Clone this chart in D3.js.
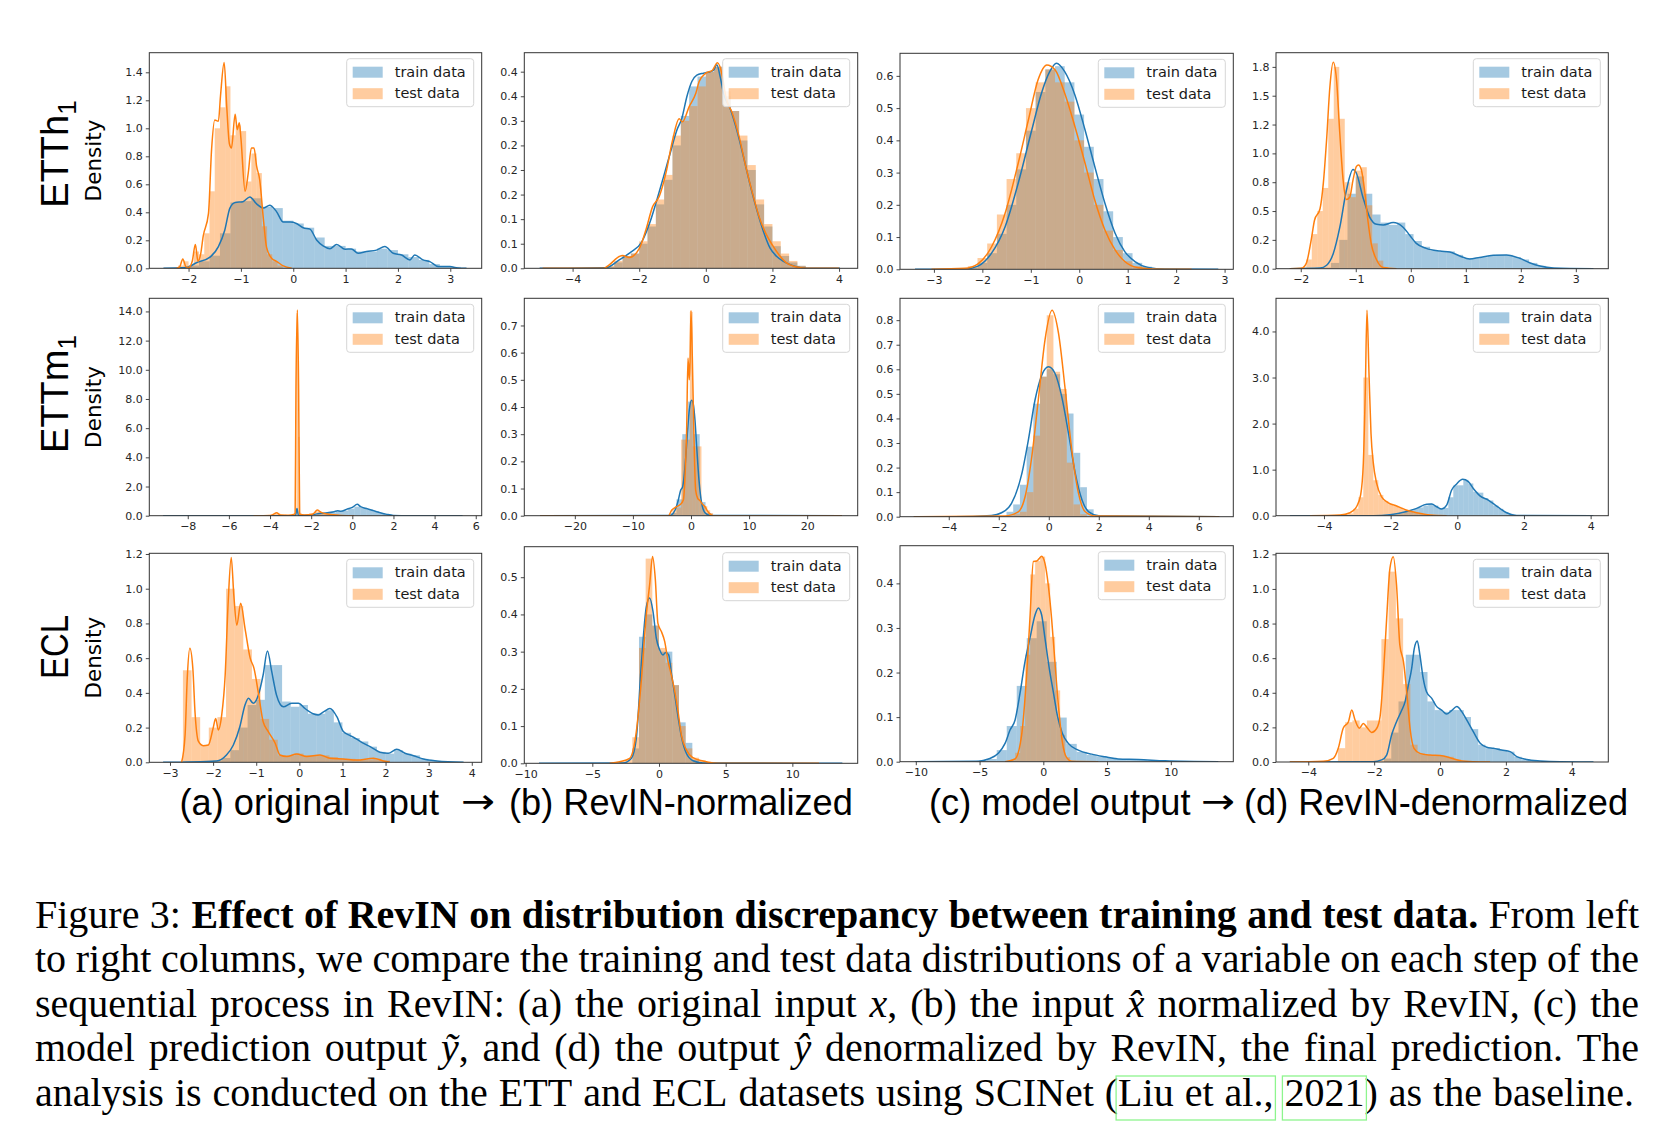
<!DOCTYPE html>
<html><head><meta charset="utf-8">
<script src="https://cdn.jsdelivr.net/npm/d3@7"></script>
<style>body{margin:0;background:#fff}svg{display:block}</style>
</head><body>
<script>
// ================= DATA =================
const rowNames = ["ETTh", "ETTm", "ECL"];
const rowSubs = ["1", "1", ""];
const colCaptionLeft = ["(a) original input", "\u2192", "(b) RevIN-normalized"];
const colCaptionRight = ["(c) model output", "\u2192", "(d) RevIN-denormalized"];
const legendLabels = ["train data", "test data"];

// x tick values per panel (row-major: ETTh1 a,b,c,d ; ETTm1 a,b,c,d ; ECL a,b,c,d)
const xTicks = [
  [-2,-1,0,1,2,3], [-4,-2,0,2,4], [-3,-2,-1,0,1,2,3], [-2,-1,0,1,2,3],
  [-8,-6,-4,-2,0,2,4,6], [-20,-10,0,10,20], [-4,-2,0,2,4,6], [-4,-2,0,2,4],
  [-3,-2,-1,0,1,2,3,4], [-10,-5,0,5,10], [-10,-5,0,5,10], [-4,-2,0,2,4]
];
const yTicks = [
  [0,0.2,0.4,0.6,0.8,1.0,1.2,1.4], [0,0.05,0.1,0.15,0.2,0.25,0.3,0.35,0.4], [0,0.1,0.2,0.3,0.4,0.5,0.6], [0,0.25,0.5,0.75,1.0,1.25,1.5,1.75],
  [0,2,4,6,8,10,12,14], [0,0.1,0.2,0.3,0.4,0.5,0.6,0.7], [0,0.1,0.2,0.3,0.4,0.5,0.6,0.7,0.8], [0,1,2,3,4],
  [0,0.2,0.4,0.6,0.8,1.0,1.2], [0,0.1,0.2,0.3,0.4,0.5], [0,0.1,0.2,0.3,0.4], [0,0.2,0.4,0.6,0.8,1.0,1.2]
];
const yTickLabels = [
  ["0.0","0.2","0.4","0.6","0.8","1.0","1.2","1.4"], ["0.0","0.1","0.1","0.2","0.2","0.2","0.3","0.4","0.4"], ["0.0","0.1","0.2","0.3","0.4","0.5","0.6"], ["0.0","0.2","0.5","0.8","1.0","1.2","1.5","1.8"],
  ["0.0","2.0","4.0","6.0","8.0","10.0","12.0","14.0"], ["0.0","0.1","0.2","0.3","0.4","0.5","0.6","0.7"], ["0.0","0.1","0.2","0.3","0.4","0.5","0.6","0.7","0.8"], ["0.0","1.0","2.0","3.0","4.0"],
  ["0.0","0.2","0.4","0.6","0.8","1.0","1.2"], ["0.0","0.1","0.2","0.3","0.4","0.5"], ["0.0","0.1","0.2","0.3","0.4"], ["0.0","0.2","0.4","0.6","0.8","1.0","1.2"]
];
// axis ranges (data units)
const xDomains = [[-2.75,3.6],[-5.45,4.56],[-3.70,3.18],[-2.45,3.59],[-9.87,6.29],[-28.7,28.7],[-5.95,7.38],[-5.44,4.53],[-3.48,4.23],[-10.1,14.9],[-11.24,14.9],[-4.98,5.11]];
const yDomains = [[0,1.54],[0,0.4386],[0,0.67],[0,1.873],[0,14.9],[0,0.80],[0,0.889],[0,4.72],[0,1.204],[0,0.582],[0,0.4845],[0,1.206]];

// ---- KDE curves [x, density] ----
const kdeTrain_ETTh1_a = [[-2.48,0],[-2.04,0.005],[-1.85,0.04],[-1.59,0.08],[-1.43,0.155],[-1.31,0.27],[-1.21,0.43],[-1.11,0.47],[-0.96,0.476],[-0.83,0.51],[-0.70,0.46],[-0.57,0.43],[-0.45,0.45],[-0.32,0.405],[-0.19,0.33],[-0.06,0.33],[0.06,0.32],[0.19,0.29],[0.32,0.28],[0.45,0.20],[0.57,0.16],[0.70,0.14],[0.83,0.17],[0.99,0.136],[1.11,0.138],[1.24,0.107],[1.40,0.12],[1.59,0.13],[1.75,0.155],[1.91,0.107],[2.07,0.095],[2.23,0.06],[2.32,0.095],[2.48,0.06],[2.61,0.048],[2.77,0.012],[2.99,0.012],[3.18,0],[3.31,0]];
const kdeTest_ETTh1_a = [[-2.23,0],[-2.17,0.01],[-2.11,0.067],[-2.05,0.01],[-2.0,0.005],[-1.93,0.05],[-1.87,0.17],[-1.82,0.05],[-1.77,0.1],[-1.72,0.23],[-1.62,0.39],[-1.56,0.85],[-1.50,1.06],[-1.43,1.05],[-1.39,1.23],[-1.32,1.47],[-1.27,1.15],[-1.22,0.89],[-1.18,0.86],[-1.11,1.10],[-1.07,0.99],[-1.03,1.04],[-1.0,0.93],[-0.92,0.55],[-0.86,0.68],[-0.80,0.86],[-0.75,0.86],[-0.70,0.73],[-0.64,0.63],[-0.57,0.35],[-0.51,0.15],[-0.41,0.07],[-0.32,0.05],[-0.19,0.017],[-0.03,0]];
const kdeTrain_ETTh1_b = [[-4.99,0],[-3.0,0.001],[-2.6,0.017],[-2.27,0.032],[-1.92,0.054],[-1.67,0.095],[-1.47,0.139],[-1.27,0.186],[-1.07,0.234],[-0.87,0.281],[-0.72,0.305],[-0.57,0.349],[-0.42,0.38],[-0.27,0.393],[-0.07,0.397],[0.13,0.40],[0.23,0.403],[0.33,0.414],[0.43,0.39],[0.53,0.356],[0.73,0.325],[0.93,0.281],[1.13,0.227],[1.33,0.17],[1.53,0.119],[1.73,0.075],[1.93,0.041],[2.13,0.024],[2.33,0.014],[2.63,0.005],[3.03,0],[4.03,0]];
const kdeTest_ETTh1_b = [[-4.9,0],[-3.07,0],[-2.9,0.007],[-2.6,0.024],[-2.5,0.026],[-2.3,0.022],[-2.0,0.04],[-1.8,0.078],[-1.6,0.125],[-1.4,0.146],[-1.2,0.193],[-1.0,0.26],[-0.8,0.304],[-0.7,0.298],[-0.5,0.329],[-0.3,0.356],[-0.2,0.38],[0.0,0.397],[0.2,0.403],[0.35,0.418],[0.5,0.39],[0.6,0.349],[0.8,0.315],[1.0,0.268],[1.2,0.207],[1.4,0.153],[1.6,0.105],[1.8,0.071],[2.0,0.047],[2.2,0.027],[2.4,0.012],[2.7,0.003],[3.0,0],[4.0,0]];
const kdeTrain_ETTh1_c = [[-3.39,0],[-2.36,0.001],[-2.09,0.01],[-1.81,0.05],[-1.53,0.132],[-1.26,0.267],[-0.98,0.432],[-0.78,0.546],[-0.61,0.613],[-0.47,0.639],[-0.30,0.613],[-0.09,0.541],[0.12,0.432],[0.32,0.319],[0.53,0.205],[0.74,0.112],[0.94,0.055],[1.15,0.024],[1.42,0.006],[1.77,0.001],[2.87,0]];
const kdeTest_ETTh1_c = [[-3.05,0],[-2.36,0.003],[-2.09,0.017],[-1.81,0.07],[-1.53,0.174],[-1.26,0.329],[-1.05,0.463],[-0.85,0.588],[-0.67,0.634],[-0.50,0.619],[-0.30,0.546],[-0.09,0.443],[0.12,0.329],[0.32,0.215],[0.53,0.122],[0.74,0.06],[0.94,0.024],[1.22,0.005],[1.77,0],[2.32,0]];
const kdeTrain_ETTh1_d = [[-2.2,0],[-1.65,0.005],[-1.53,0.03],[-1.41,0.13],[-1.29,0.36],[-1.17,0.68],[-1.05,0.86],[-0.99,0.83],[-0.87,0.62],[-0.75,0.45],[-0.62,0.385],[-0.50,0.38],[-0.32,0.40],[-0.14,0.36],[-0.02,0.29],[0.10,0.22],[0.28,0.176],[0.53,0.153],[0.71,0.145],[0.89,0.11],[1.07,0.084],[1.25,0.098],[1.50,0.116],[1.74,0.119],[1.98,0.09],[2.16,0.052],[2.35,0.023],[2.59,0.006],[3.32,0]];
const kdeTest_ETTh1_d = [[-2.2,0],[-1.99,0.003],[-1.90,0.046],[-1.81,0.25],[-1.75,0.42],[-1.65,0.52],[-1.59,0.74],[-1.53,1.12],[-1.47,1.58],[-1.41,1.79],[-1.35,1.64],[-1.29,1.17],[-1.23,0.77],[-1.17,0.60],[-1.11,0.62],[-1.05,0.77],[-0.99,0.885],[-0.95,0.90],[-0.90,0.86],[-0.84,0.68],[-0.78,0.42],[-0.72,0.22],[-0.62,0.075],[-0.50,0.01],[-0.26,0]];
const kdeTrain_ETTm1_a = [[-9.2,0],[-3.0,0.005],[-2.76,0.01],[-2.69,0.5],[-2.62,0.01],[-2.2,0.03],[-1.52,0.16],[-0.88,0.27],[-0.72,0.34],[-0.56,0.30],[-0.24,0.46],[0.0,0.57],[0.24,0.78],[0.40,0.62],[0.72,0.48],[1.04,0.34],[1.36,0.2],[1.68,0.09],[2.0,0.02],[2.8,0.003],[5.36,0]];
const kdeTest_ETTm1_a = [[-4.8,0],[-4.0,0.02],[-3.85,0.08],[-3.68,0.2],[-3.5,0.05],[-3.1,0.03],[-2.85,0.08],[-2.78,0.16],[-2.74,8.6],[-2.67,14.1],[-2.61,8.6],[-2.56,0.1],[-2.32,0.05],[-1.95,0.1],[-1.84,0.2],[-1.71,0.39],[-1.52,0.23],[-1.2,0.11],[-0.56,0.02],[0.08,0]];
const kdeTrain_ETTm1_b = [[-26,0],[-3.62,0.001],[-2.76,0.02],[-2.18,0.058],[-1.78,0.094],[-1.44,0.106],[-1.03,0.18],[-0.63,0.30],[-0.29,0.39],[0.11,0.425],[0.40,0.41],[0.69,0.35],[0.98,0.253],[1.38,0.13],[1.84,0.045],[2.41,0.011],[3.28,0.001],[26,0]];
const kdeTest_ETTm1_b = [[-26,0],[-3.9,0],[-3.33,0.02],[-2.47,0.033],[-1.9,0.04],[-1.32,0.058],[-1.03,0.143],[-0.75,0.315],[-0.52,0.58],[-0.29,0.50],[-0.17,0.565],[0,0.755],[0.23,0.58],[0.52,0.28],[0.80,0.094],[1.15,0.064],[1.55,0.055],[1.95,0.043],[2.41,0.033],[2.82,0.018],[3.28,0.006],[3.85,0],[26,0]];
const kdeTrain_ETTm1_c = [[-5.4,0],[-3.77,0],[-2.29,0.005],[-1.89,0.016],[-1.49,0.054],[-1.09,0.17],[-0.82,0.31],[-0.55,0.475],[-0.28,0.576],[-0.01,0.61],[0.25,0.583],[0.52,0.488],[0.79,0.339],[1.06,0.176],[1.33,0.068],[1.60,0.02],[2.0,0.004],[6.82,0]];
const kdeTest_ETTm1_c = [[-5.4,0],[-1.76,0.003],[-1.22,0.02],[-0.95,0.08],[-0.68,0.244],[-0.42,0.475],[-0.15,0.72],[0.13,0.84],[0.39,0.746],[0.66,0.515],[0.92,0.271],[1.19,0.095],[1.46,0.02],[1.86,0.003],[6.82,0]];
const kdeTrain_ETTm1_d = [[-5.02,0],[-2.52,0.001],[-2.02,0.02],[-1.52,0.09],[-1.22,0.16],[-0.92,0.25],[-0.77,0.253],[-0.62,0.195],[-0.47,0.145],[-0.32,0.23],[-0.17,0.557],[-0.02,0.69],[0.16,0.79],[0.33,0.74],[0.48,0.59],[0.68,0.43],[0.93,0.34],[1.18,0.21],[1.48,0.065],[1.78,0.007],[4.08,0]];
const kdeTest_ETTm1_d = [[-4.42,0],[-3.52,0.015],[-3.22,0.065],[-3.02,0.2],[-2.90,0.45],[-2.82,1.14],[-2.76,2.73],[-2.71,4.46],[-2.65,3.09],[-2.59,1.79],[-2.52,1.14],[-2.42,0.70],[-2.27,0.41],[-2.07,0.28],[-1.82,0.21],[-1.52,0.12],[-1.22,0.065],[-0.82,0.015],[-0.32,0]];
const kdeTrain_ECL_a = [[-3.16,0],[-1.92,0.008],[-1.69,0.042],[-1.53,0.10],[-1.38,0.205],[-1.26,0.33],[-1.18,0.369],[-1.07,0.34],[-0.95,0.388],[-0.84,0.503],[-0.74,0.641],[-0.64,0.522],[-0.53,0.388],[-0.37,0.32],[-0.18,0.34],[-0.02,0.34],[0.13,0.31],[0.32,0.28],[0.44,0.273],[0.56,0.29],[0.71,0.31],[0.87,0.263],[1.02,0.177],[1.18,0.154],[1.33,0.134],[1.48,0.11],[1.68,0.085],[1.87,0.058],[2.06,0.052],[2.26,0.075],[2.45,0.052],[2.65,0.038],[2.88,0.019],[3.19,0.008],[3.81,0]];
const kdeTest_ECL_a = [[-2.73,0],[-2.65,0.157],[-2.60,0.484],[-2.54,0.657],[-2.47,0.54],[-2.42,0.29],[-2.34,0.12],[-2.23,0.096],[-2.11,0.10],[-2.0,0.196],[-1.94,0.253],[-1.88,0.186],[-1.80,0.273],[-1.72,0.503],[-1.65,0.925],[-1.58,1.18],[-1.52,0.964],[-1.45,0.79],[-1.36,0.916],[-1.26,0.772],[-1.14,0.60],[-1.05,0.54],[-0.95,0.40],[-0.84,0.234],[-0.72,0.177],[-0.56,0.11],[-0.45,0.042],[-0.29,0.033],[-0.06,0.048],[0.17,0.033],[0.48,0.042],[0.71,0.023],[1.02,0.019],[1.33,0.013],[1.72,0.023],[1.95,0.008],[2.1,0]];
const kdeTrain_ECL_b = [[-9,0],[-2.7,0.001],[-2.08,0.013],[-1.7,0.067],[-1.33,0.264],[-0.95,0.42],[-0.7,0.444],[-0.45,0.408],[-0.2,0.336],[0.05,0.305],[0.3,0.291],[0.5,0.298],[0.73,0.291],[0.93,0.242],[1.18,0.184],[1.43,0.125],[1.68,0.072],[2.05,0.027],[2.55,0.007],[3.3,0.001],[13.75,0]];
const kdeTest_ECL_b = [[-3.7,0],[-2.95,0.004],[-2.2,0.013],[-1.7,0.085],[-1.33,0.22],[-0.95,0.40],[-0.7,0.48],[-0.48,0.556],[-0.28,0.497],[-0.08,0.376],[0.18,0.354],[0.43,0.327],[0.68,0.273],[0.93,0.237],[1.18,0.193],[1.43,0.139],[1.68,0.076],[2.05,0.036],[2.55,0.015],[3.3,0.006],[4.05,0.001],[4.8,0],[12,0]];
const kdeTrain_ECL_c = [[-10.06,0],[-5.1,0.001],[-4.31,0.006],[-3.53,0.019],[-3.0,0.041],[-2.61,0.071],[-2.22,0.093],[-1.83,0.153],[-1.44,0.224],[-1.05,0.277],[-0.65,0.329],[-0.39,0.345],[-0.13,0.329],[0.13,0.277],[0.47,0.209],[0.78,0.157],[1.12,0.101],[1.49,0.064],[1.96,0.041],[2.74,0.026],[3.79,0.017],[4.83,0.011],[5.88,0.006],[7.45,0.005],[9.54,0.002],[13.72,0]];
const kdeTest_ECL_c = [[-3.0,0],[-2.22,0.006],[-1.70,0.06],[-1.31,0.194],[-1.05,0.321],[-0.78,0.449],[-0.52,0.45],[-0.34,0.455],[-0.13,0.461],[0.13,0.445],[0.39,0.396],[0.65,0.321],[0.91,0.224],[1.18,0.127],[1.49,0.045],[1.83,0.009],[2.22,0.001],[4.31,0]];
const kdeTrain_ECL_d = [[-4.56,0],[-2.03,0.002],[-1.77,0.012],[-1.62,0.04],[-1.47,0.156],[-1.32,0.233],[-1.16,0.30],[-1.06,0.349],[-0.96,0.445],[-0.86,0.541],[-0.78,0.657],[-0.69,0.699],[-0.61,0.618],[-0.51,0.483],[-0.41,0.406],[-0.25,0.368],[-0.10,0.32],[0.05,0.30],[0.20,0.277],[0.35,0.297],[0.51,0.32],[0.66,0.291],[0.81,0.243],[1.01,0.175],[1.22,0.108],[1.42,0.085],[1.62,0.079],[1.87,0.069],[2.13,0.06],[2.33,0.031],[2.63,0.015],[3.04,0.006],[3.65,0.001],[4.66,0]];
const kdeTest_ECL_d = [[-4.56,0],[-3.54,0.004],[-3.24,0.021],[-3.09,0.079],[-2.94,0.195],[-2.78,0.233],[-2.68,0.30],[-2.58,0.243],[-2.45,0.195],[-2.33,0.223],[-2.21,0.198],[-2.08,0.171],[-1.92,0.195],[-1.82,0.262],[-1.72,0.503],[-1.62,0.83],[-1.52,1.12],[-1.42,1.186],[-1.32,1.023],[-1.22,0.676],[-1.11,0.58],[-1.01,0.406],[-0.91,0.195],[-0.79,0.079],[-0.61,0.05],[-0.30,0.04],[0,0.037],[0.30,0.025],[0.61,0.008],[1.01,0.002],[1.52,0]];

// ---- histograms: segments of contiguous bins {x0: first edge, w: bin width, h: heights} ----
const histTrain_ETTh1_a = [{x0:-2.4,w:0.2,h:[0,0.005,0.02,0.05,0.09,0.25,0.47,0.48,0.50,0.44,0.43,0.34,0.32,0.29,0.22,0.16,0.16,0.14,0.12,0.12,0.14,0.13,0.10,0.08,0.06,0.03,0.015,0.01]}];
const histTest_ETTh1_a = [{x0:-2.2,w:0.1,h:[0.02,0.05,0.02,0.12,0.10,0.25,0.55,1.0,1.15,1.30,0.95,1.02,0.98,0.62,0.82,0.68,0.30,0.10,0.05,0.02]}];
const histTrain_ETTh1_b = [{x0:-3.0,w:0.25,h:[0.003,0.012,0.025,0.03,0.05,0.085,0.13,0.18,0.25,0.31,0.37,0.39,0.40,0.41,0.35,0.32,0.26,0.2,0.13,0.085,0.045,0.025,0.012,0.005]}];
const histTest_ETTh1_b = [{x0:-3.0,w:0.25,h:[0.005,0.015,0.025,0.03,0.055,0.09,0.14,0.19,0.27,0.30,0.33,0.37,0.40,0.41,0.36,0.32,0.27,0.21,0.14,0.09,0.055,0.03,0.015,0.005]}];
const histTrain_ETTh1_c = [{x0:-2.3,w:0.2,h:[0.005,0.02,0.05,0.11,0.20,0.31,0.43,0.55,0.62,0.63,0.58,0.48,0.38,0.28,0.18,0.10,0.05,0.02,0.008]}];
const histTest_ETTh1_c = [{x0:-2.3,w:0.2,h:[0.01,0.035,0.08,0.17,0.28,0.36,0.50,0.58,0.62,0.58,0.52,0.40,0.30,0.20,0.12,0.06,0.025,0.01,0.003]}];
const histTrain_ETTh1_d = [{x0:-1.6,w:0.15,h:[0.01,0.05,0.25,0.65,0.80,0.65,0.47,0.40,0.38,0.40,0.30,0.24,0.19,0.16,0.15,0.15,0.12,0.09,0.09,0.10,0.11,0.12,0.12,0.10,0.08,0.05,0.025,0.01,0.005]}];
const histTest_ETTh1_d = [{x0:-2.0,w:0.1,h:[0.01,0.08,0.30,0.50,0.70,1.30,1.75,1.30,0.75,0.62,0.85,0.88,0.55,0.22,0.07,0.01]}];
const histTrain_ETTm1_a = [{x0:-1.7,w:0.3,h:[0.12,0.18,0.22,0.30,0.35,0.48,0.62,0.55,0.42,0.30,0.18,0.08,0.02]}];
const histTest_ETTm1_a = [{x0:-4.1,w:0.3,h:[0.05,0.15,0.08,0.02]},{x0:-2.8,w:0.08,h:[0.2,13.9,5.4,0.2]},{x0:-2.4,w:0.3,h:[0.03,0.15,0.3,0.2,0.1,0.05,0.02]}];
const histTrain_ETTm1_b = [{x0:-3.5,w:1.0,h:[0.01,0.06,0.30,0.42,0.30,0.05,0.01]}];
const histTest_ETTm1_b = [{x0:-3.7,w:0.5,h:[0.005,0.02,0.03,0.03,0.28,0.28,0.28,0.75,0.255,0.255,0.255,0.04,0.035,0.02,0.01]}];
const histTrain_ETTm1_c = [{x0:-1.69,w:0.268,h:[0.02,0.05,0.13,0.285,0.46,0.57,0.60,0.58,0.50,0.42,0.26,0.12,0.03]}];
const histTest_ETTm1_c = [{x0:-1.69,w:0.268,h:[0.005,0.01,0.02,0.10,0.33,0.57,0.82,0.59,0.52,0.22,0.05,0.01,0.0]}];
const histTrain_ETTm1_d = [{x0:-2.07,w:0.15,h:[0.02,0.03,0.05,0.08,0.11,0.15,0.18,0.22,0.26,0.22,0.16,0.17,0.40,0.66,0.66,0.78,0.70,0.52,0.50,0.38,0.33,0.22,0.15,0.08,0.04,0.015]}];
const histTest_ETTm1_d = [{x0:-3.42,w:0.15,h:[0.02,0.05,0.15,0.40,3.0,1.32,0.77,0.45,0.32,0.25,0.21,0.17,0.13,0.10,0.07,0.05,0.03,0.02,0.01]}];
const histTrain_ECL_a = [{x0:-2.2,w:0.2,h:[0.005,0.01,0.025,0.07,0.20,0.33,0.36,0.56,0.56,0.35,0.32,0.33,0.28,0.28,0.30,0.23,0.17,0.14,0.12,0.09,0.06,0.05,0.07,0.05,0.04,0.02,0.01,0.005]}];
const histTest_ECL_a = [{x0:-2.7,w:0.2,h:[0.53,0.26,0.10,0.20,0.26,1.0,0.90,0.65,0.48,0.25,0.13,0.04,0.04,0.05,0.04,0.04,0.04,0.03,0.02,0.02,0.015,0.015,0.02,0.01]}];
const histTrain_ECL_b = [{x0:-2.0,w:0.5,h:[0.04,0.34,0.40,0.37,0.30,0.30,0.21,0.11,0.055,0.01]}];
const histTest_ECL_b = [{x0:-3.0,w:0.5,h:[0.005,0.01,0.07,0.31,0.55,0.37,0.31,0.27,0.21,0.10,0.04,0.015,0.008,0.004]}];
const histTrain_ECL_c = [{x0:-5.22,w:0.784,h:[0.002,0.006,0.026,0.08,0.17,0.277,0.315,0.224,0.099,0.04,0.022,0.015,0.012,0.009,0.006,0.005,0.004,0.003,0.002,0.001]}];
const histTest_ECL_c = [{x0:-2.6,w:0.392,h:[0.003,0.02,0.08,0.24,0.42,0.45,0.46,0.40,0.28,0.16,0.06,0.01]}];
const histTrain_ECL_d = [{x0:-1.7,w:0.22,h:[0.02,0.17,0.35,0.62,0.62,0.52,0.35,0.30,0.29,0.30,0.30,0.26,0.19,0.10,0.08,0.08,0.07,0.06,0.03,0.015,0.008,0.005]}];
const histTest_ECL_d = [{x0:-3.1,w:0.22,h:[0.08,0.23,0.24,0.20,0.24,0.24,0.71,1.1,0.83,0.45,0.10,0.05,0.04,0.04,0.035,0.03,0.015,0.005]}];

// caption (runs: [text, style, linkId])
const captionLines = [
  [["Figure 3: ","r"],["Effect of RevIN on distribution discrepancy between training and test data.","b"],[" From left","r"]],
  [["to right columns, we compare the training and test data distributions of a variable on each step of the","r"]],
  [["sequential process in RevIN: (a) the original input ","r"],["x","i"],[", (b) the input ","r"],["x\u0302","i"],[" normalized by RevIN, (c) the","r"]],
  [["model prediction output ","r"],["\u1ef9","i"],[", and (d) the output ","r"],["\u0177","i"],[" denormalized by RevIN, the final prediction. The","r"]],
  [["analysis is conducted on the ETT and ECL datasets using SCINet (","r"],["Liu et al.,","r",1],[" ","r"],["2021","r",2],[") as the baseline.","r"]]
];

// ================= LAYOUT =================
const W = 1656, H = 1124;
const C0 = "#1f77b4", C1 = "#ff7f0e";
const boxes = [
  [149.3,52.7,481.7,268.3],[524.3,52.7,857.7,268.3],[900,53.3,1233.3,269.3],[1276,52.7,1608.3,268.7],
  [149.3,298.3,481.7,515.7],[524.3,298.3,857.7,515.7],[900,298.3,1233.3,516.7],[1276,298.3,1608.3,515.7],
  [149.3,553.3,481.7,762.3],[524.3,546.7,857.7,763.3],[900,545.7,1233.3,761.7],[1276,553.3,1608.3,762]
];
const kdeTrain = [kdeTrain_ETTh1_a,kdeTrain_ETTh1_b,kdeTrain_ETTh1_c,kdeTrain_ETTh1_d,kdeTrain_ETTm1_a,kdeTrain_ETTm1_b,kdeTrain_ETTm1_c,kdeTrain_ETTm1_d,kdeTrain_ECL_a,kdeTrain_ECL_b,kdeTrain_ECL_c,kdeTrain_ECL_d];
const kdeTest = [kdeTest_ETTh1_a,kdeTest_ETTh1_b,kdeTest_ETTh1_c,kdeTest_ETTh1_d,kdeTest_ETTm1_a,kdeTest_ETTm1_b,kdeTest_ETTm1_c,kdeTest_ETTm1_d,kdeTest_ECL_a,kdeTest_ECL_b,kdeTest_ECL_c,kdeTest_ECL_d];
const histTrain = [histTrain_ETTh1_a,histTrain_ETTh1_b,histTrain_ETTh1_c,histTrain_ETTh1_d,histTrain_ETTm1_a,histTrain_ETTm1_b,histTrain_ETTm1_c,histTrain_ETTm1_d,histTrain_ECL_a,histTrain_ECL_b,histTrain_ECL_c,histTrain_ECL_d];
const histTest = [histTest_ETTh1_a,histTest_ETTh1_b,histTest_ETTh1_c,histTest_ETTh1_d,histTest_ETTm1_a,histTest_ETTm1_b,histTest_ETTm1_c,histTest_ETTm1_d,histTest_ECL_a,histTest_ECL_b,histTest_ECL_c,histTest_ECL_d];

const svg = d3.select("body").append("svg").attr("width", W).attr("height", H);
svg.append("rect").attr("width", W).attr("height", H).attr("fill", "#fff");
const defs = svg.append("defs");
const TICKFONT = "DejaVu Sans, Verdana, sans-serif";
const SANS = "Liberation Sans, Arial, sans-serif";

function drawHist(g, segs, x, y, color) {
  const bins = [];
  segs.forEach(s => s.h.forEach((h, k) => { if (h > 0) bins.push({a: s.x0 + k * s.w, b: s.x0 + (k + 1) * s.w, h}); }));
  g.append("g").selectAll("rect").data(bins).join("rect")
    .attr("x", d => x(d.a)).attr("width", d => Math.max(0, x(d.b) - x(d.a)))
    .attr("y", d => y(d.h)).attr("height", d => y(0) - y(d.h))
    .attr("fill", color).attr("fill-opacity", 0.4);
}

boxes.forEach((bx, i) => {
  const [L, T, R, B] = bx;
  const x = d3.scaleLinear().domain(xDomains[i]).range([L, R]);
  const y = d3.scaleLinear().domain(yDomains[i]).range([B, T]);
  const cid = "clip" + i;
  defs.append("clipPath").attr("id", cid).append("rect").attr("x", L).attr("y", T).attr("width", R - L).attr("height", B - T);
  const g = svg.append("g");
  const plot = g.append("g").attr("clip-path", `url(#${cid})`);
  const line = d3.line().x(d => x(d[0])).y(d => y(d[1])).curve(d3.curveMonotoneX);
  drawHist(plot, histTrain[i], x, y, C0);
  drawHist(plot, histTest[i], x, y, C1);
  plot.append("path").attr("d", line(kdeTrain[i])).attr("fill", "none").attr("stroke", C0).attr("stroke-width", 1.5).attr("stroke-linejoin","round");
  plot.append("path").attr("d", line(kdeTest[i])).attr("fill", "none").attr("stroke", C1).attr("stroke-width", 1.5).attr("stroke-linejoin","round");

  // axes
  const xa = g.append("g").attr("transform", `translate(0,${B})`)
    .call(d3.axisBottom(x).tickValues(xTicks[i]).tickSize(3.5).tickPadding(3)
      .tickFormat(d => (d < 0 ? "\u2212" + Math.abs(d) : String(d))));
  const labs = yTickLabels[i];
  const ya = g.append("g").attr("transform", `translate(${L},0)`)
    .call(d3.axisLeft(y).tickValues(yTicks[i]).tickSize(3.5).tickPadding(3)
      .tickFormat((d, k) => labs[k]));
  [xa, ya].forEach(a => {
    a.select(".domain").remove();
    a.selectAll("line").attr("stroke", "#333").attr("stroke-width", 0.9);
    a.selectAll("text").attr("font-family", TICKFONT).attr("font-size", 11).attr("fill", "#262626");
  });
  // frame
  g.append("rect").attr("x", L).attr("y", T).attr("width", R - L).attr("height", B - T)
    .attr("fill", "none").attr("stroke", "#333").attr("stroke-width", 1);

  // legend
  const lw = 127, lh = 48;
  const lg = g.append("g").attr("transform", `translate(${R - 8 - lw},${T + 6})`);
  lg.append("rect").attr("width", lw).attr("height", lh).attr("rx", 3)
    .attr("fill", "#fff").attr("fill-opacity", 0.85).attr("stroke", "#d6d6d6").attr("stroke-width", 1);
  [C0, C1].forEach((c, k) => {
    lg.append("rect").attr("x", 6).attr("y", 8 + k * 21.5).attr("width", 30).attr("height", 11)
      .attr("fill", c).attr("fill-opacity", 0.4);
    lg.append("text").attr("x", 48).attr("y", 18 + k * 21.5).text(legendLabels[k])
      .attr("font-family", TICKFONT).attr("font-size", 14.5).attr("fill", "#1a1a1a");
  });
});

// row labels
const rowCenters = [154, 394, 647];
const densCenters = [160.5, 407, 657.7];
rowNames.forEach((nm, r) => {
  const t = svg.append("text").attr("transform", `translate(68,${rowCenters[r]}) rotate(-90)`)
    .attr("text-anchor", "middle").attr("font-family", SANS)
    .attr("font-size", 38).attr("fill", "#000");
  t.append("tspan").text(nm);
  if (rowSubs[r]) t.append("tspan").attr("font-size", 26).attr("dy", 8).text(rowSubs[r]);
  else t.attr("textLength", 64).attr("lengthAdjust", "spacingAndGlyphs");
  svg.append("text").attr("transform", `translate(100.7,${densCenters[r]}) rotate(-90)`)
    .attr("text-anchor", "middle").attr("font-family", TICKFONT).attr("font-size", 21.5)
    .attr("fill", "#000").text("Density");
});

// column captions: [text start, arrow start, second part start]
function colCaption(parts, xs) {
  parts.forEach((p, k) => {
    const t = svg.append("text").attr("x", xs[k]).attr("y", 815).attr("fill", "#000")
      .attr("font-family", k === 1 ? TICKFONT : SANS).attr("font-size", k === 1 ? 34 : 36.2).text(p);
    if (k === 1) t.attr("textLength", 34).attr("lengthAdjust", "spacingAndGlyphs").attr("y", 813);
  });
}
colCaption(colCaptionLeft, [179.5, 461, 509]);
colCaption(colCaptionRight, [929, 1201, 1244]);

// figure caption (justified)
const CAPFONT = "Liberation Serif, Times New Roman, DejaVu Serif, serif";
const capSize = 40;
const baselines = [927.5, 972, 1016.8, 1061.4, 1106];
const capLeft = 35, capRights = [1639, 1639, 1639, 1639, 1634];
const linkBoxes = {};
captionLines.forEach((segs, li) => {
  const words = []; let cur = [];
  segs.forEach(([t, s, link]) => {
    t.split(" ").forEach((p, k) => {
      if (k > 0) { if (cur.length) words.push(cur); cur = []; }
      if (p) cur.push([p, s, link]);
    });
  });
  if (cur.length) words.push(cur);
  let size = capSize;
  const build = () => words.map(w => {
    const te = svg.append("text").attr("y", baselines[li]).attr("font-family", CAPFONT)
      .attr("font-size", size).attr("fill", "#000");
    const spans = w.map(([p, s, link]) => {
      const ts = te.append("tspan").text(p);
      if (s === "b") ts.attr("font-weight", "bold");
      if (s === "i") ts.attr("font-style", "italic");
      return {node: ts.node(), link};
    });
    return {te, spans, w: te.node().getComputedTextLength()};
  });
  let els = build();
  const avail = capRights[li] - capLeft;
  const minGap = 0.2 * capSize;
  let total = d3.sum(els, e => e.w);
  if (total + minGap * (els.length - 1) > avail) {
    size = capSize * (avail - minGap * (els.length - 1)) / total;
    els.forEach(e => e.te.remove());
    els = build();
    total = d3.sum(els, e => e.w);
  }
  const gap = (avail - total) / (els.length - 1);
  let xp = capLeft;
  els.forEach(e => {
    e.te.attr("x", xp);
    let off = 0;
    e.spans.forEach(sp => {
      const len = sp.node.getComputedTextLength();
      if (sp.link) {
        const lb = linkBoxes[sp.link] || (linkBoxes[sp.link] = {a: Infinity, b: -Infinity, y: baselines[li]});
        lb.a = Math.min(lb.a, xp + off); lb.b = Math.max(lb.b, xp + off + len);
      }
      off += len;
    });
    xp += e.w + gap;
  });
});
Object.values(linkBoxes).forEach(lb => {
  svg.append("rect").attr("x", lb.a - 2).attr("y", lb.y - 30).attr("width", lb.b - lb.a + 4).attr("height", 44)
    .attr("fill", "none").attr("stroke", "#8ef58e").attr("stroke-width", 1.3);
});
</script>
</body></html>
